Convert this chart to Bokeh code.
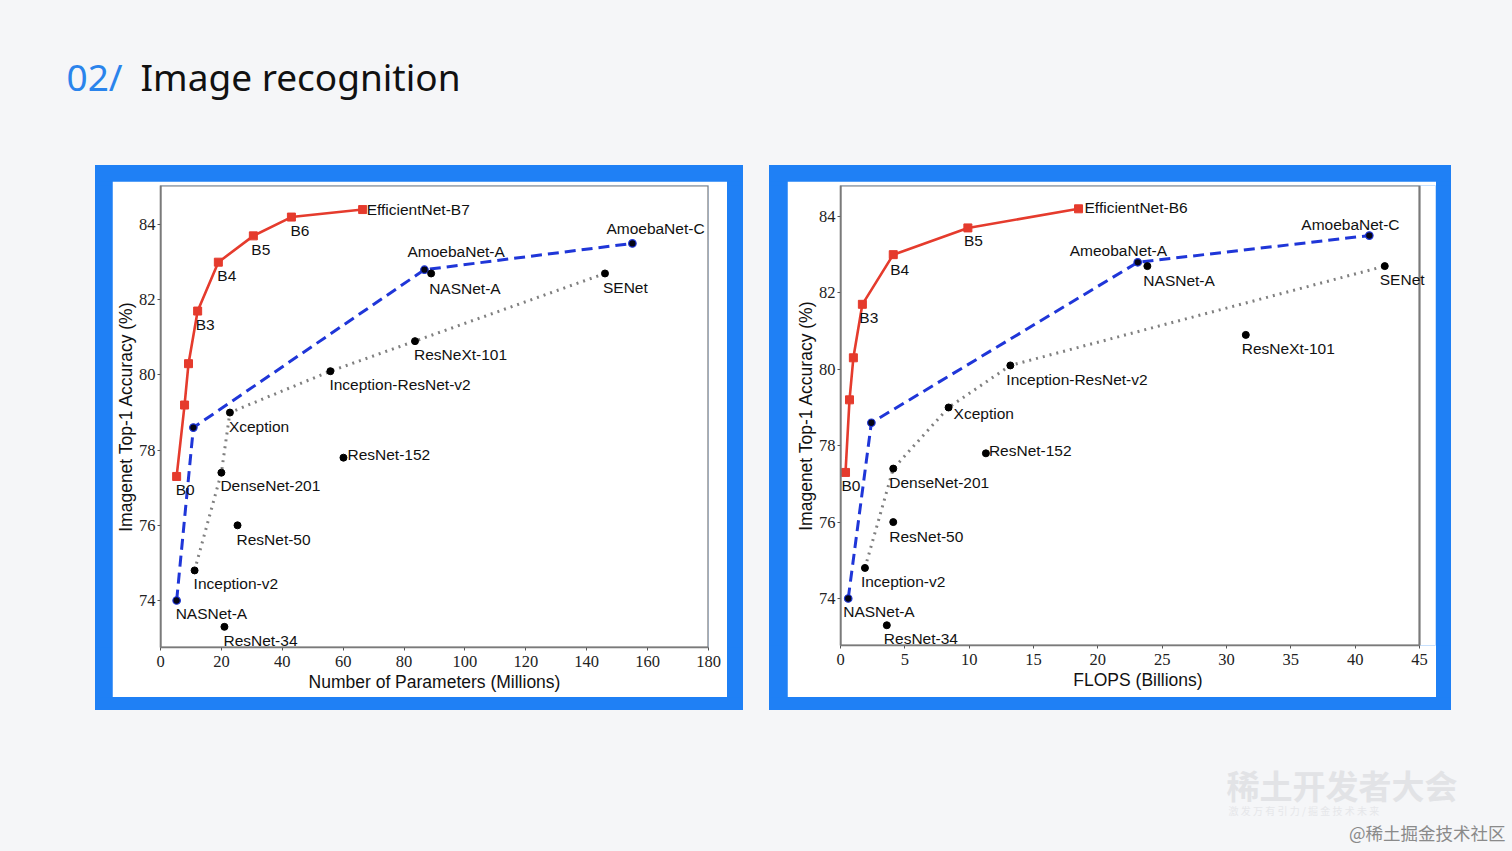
from bokeh.plotting import figure
from bokeh.models import Range1d, FixedTicker, Label, BoxAnnotation
from bokeh.layouts import column, row
from bokeh.embed import file_html
from bokeh.resources import INLINE

# ---------------- data ----------------
EFF_ACC = [77.3, 79.2, 80.3, 81.7, 83.0, 83.7, 84.2, 84.4]
NAS_ACC = [74.0, 78.6, 82.8, 83.5]

# left chart: number of parameters (millions)
L_EFF_LABELS = ["B0", "", "", "B3", "B4", "B5", "B6", "EfficientNet-B7"]
L_EFF_X = [5.3, 7.9, 9.2, 12.2, 19.0, 30.5, 43.0, 66.4]
L_NAS_LABELS = ["NASNet-A", "", "AmoebaNet-A", "AmoebaNet-C"]
L_NAS_X = [5.3, 10.8, 86.7, 155.0]
L_CNN_LABELS = ["Inception-v2", "DenseNet-201", "Xception", "Inception-ResNet-v2", "ResNeXt-101", "SENet"]
L_CNN_X = [11.2, 20.0, 22.8, 55.8, 83.6, 146.0]
L_CNN_ACC = [74.8, 77.4, 79.0, 80.1, 80.9, 82.7]
L_OTHER_LABELS = ["NASNet-A", "ResNet-152", "ResNet-50", "ResNet-34"]
L_OTHER_X = [88.9, 60.1, 25.3, 21.0]
L_OTHER_ACC = [82.7, 77.8, 76.0, 73.3]
L_XTICKS = [0, 20, 40, 60, 80, 100, 120, 140, 160, 180]

# right chart: FLOPS (billions)
R_EFF_LABELS = ["B0", "", "", "B3", "B4", "B5", "EfficientNet-B6"]
R_EFF_X = [0.39, 0.70, 1.0, 1.7, 4.1, 9.9, 18.5]
R_EFF_ACC = [77.3, 79.2, 80.3, 81.7, 83.0, 83.7, 84.2]
R_NAS_LABELS = ["NASNet-A", "", "AmeobaNet-A", "AmoebaNet-C"]
R_NAS_X = [0.6, 2.4, 23.1, 41.1]
R_CNN_LABELS = ["Inception-v2", "DenseNet-201", "Xception", "Inception-ResNet-v2", "SENet"]
R_CNN_X = [1.9, 4.1, 8.4, 13.2, 42.3]
R_CNN_ACC = [74.8, 77.4, 79.0, 80.1, 82.7]
R_OTHER_LABELS = ["NASNet-A", "ResNeXt-101", "ResNet-152", "ResNet-50", "ResNet-34"]
R_OTHER_X = [23.85, 31.5, 11.3, 4.1, 3.6]
R_OTHER_ACC = [82.7, 80.9, 77.8, 76.0, 73.3]
R_XTICKS = [0, 5, 10, 15, 20, 25, 30, 35, 40, 45]

Y_TICKS = [74, 76, 78, 80, 82, 84]

# ---------------- label offsets (screen px right / down; style only) ----------------
L_EFF_OFF = [(-1, 13), (0, 0), (0, 0), (-2, 13), (-1, 13), (-2, 14), (-1, 13), (4, 0)]
L_NAS_OFF = [(-1, 13), (0, 0), (-17, -18), (-26, -15)]
L_CNN_OFF = [(-1, 13), (-1, 13), (-1, 14), (-1, 13), (-1, 13), (-2, 14)]
L_OTHER_OFF = [(-2, 15), (4, -3), (-1, 14), (-1, 14)]

R_EFF_OFF = [(-4, 13), (0, 0), (0, 0), (-3, 13), (-3, 15), (-4, 13), (6, -1)]
R_NAS_OFF = [(-5, 13), (0, 0), (-68, -12), (-68, -11)]
R_CNN_OFF = [(-4, 14), (-4, 14), (5, 6), (-4, 14), (-5, 13)]
R_OTHER_OFF = [(-4, 14), (-4, 14), (3, -3), (-4, 14), (-3, 13)]

# ---------------- styles ----------------
BG = "#f5f6f8"
FRAME_BLUE = "#1f80f5"
RED = "#e53b2d"
BLUE = "#1f36d8"
GRAY = "#808080"
AXIS_GRAY = "#7a7a7a"
LABEL_FONT = "Liberation Sans"
TICK_FONT = "Liberation Serif"


def blank(w, h, color):
    f = figure(width=w, height=h, toolbar_location=None, output_backend="svg",
               min_border=0, x_axis_location=None, y_axis_location=None,
               x_range=Range1d(0, 1), y_range=Range1d(0, 1))
    f.outline_line_color = None
    f.background_fill_color = color
    f.border_fill_color = color
    f.grid.visible = False
    return f


def add_labels(p, xs, ys, labels, offs):
    for x, y, t, (dx, dy) in zip(xs, ys, labels, offs):
        if not t:
            continue
        p.add_layout(Label(x=x, y=y, text=t, x_offset=dx, y_offset=-dy,
                           text_font=LABEL_FONT, text_font_size="15.5px",
                           text_baseline="middle", text_align="left",
                           text_color="#111111"))


def chart(w, h, bl, br, bt, bb, xr, yr, xticks, xlabel,
          eff, nas, cnn, other, pad=0):
    # pad: white pixels right of the axes box kept inside the frame so that
    # labels may overhang the box (as in the original figure)
    frame_w = w - bl - br
    x_end = xr[0] + (xr[1] - xr[0]) * (frame_w + pad) / frame_w
    p = figure(width=w, height=h, toolbar_location=None, output_backend="svg",
               x_range=Range1d(xr[0], x_end), y_range=Range1d(*yr),
               min_border_left=bl, min_border_right=br - pad,
               min_border_top=bt, min_border_bottom=bb)
    p.background_fill_color = "white"
    p.border_fill_color = "white"
    p.outline_line_color = None
    p.grid.visible = False
    p.add_layout(BoxAnnotation(left=xr[0], right=xr[1], fill_color=None, fill_alpha=0,
                               line_color=AXIS_GRAY, line_alpha=1.0, line_width=2.2))
    p.xaxis.ticker = FixedTicker(ticks=xticks)
    p.yaxis.ticker = FixedTicker(ticks=Y_TICKS)
    p.xaxis.bounds = (xr[0], xr[1])
    for ax in (p.xaxis, p.yaxis):
        ax.axis_line_color = AXIS_GRAY
        ax.axis_line_width = 1.6
        ax.major_tick_line_color = "#555555"
        ax.major_tick_in = 0
        ax.major_tick_out = 3
        ax.minor_tick_in = 0
        ax.minor_tick_out = 0
        ax.major_label_text_font = TICK_FONT
        ax.major_label_text_font_size = "16.5px"
        ax.major_label_text_color = "#222222"
        ax.axis_label_text_font = LABEL_FONT
        ax.axis_label_text_font_size = "17.5px"
        ax.axis_label_text_font_style = "normal"
        ax.axis_label_text_color = "#111111"
    p.xaxis.major_label_standoff = 5
    p.xaxis.axis_label_standoff = 2
    p.yaxis.major_label_standoff = 2
    p.yaxis.axis_label_standoff = 0
    p.xaxis.axis_label = xlabel
    p.yaxis.axis_label = "Imagenet Top-1 Accuracy (%)"

    ex, ey, el, eo = eff
    nx, ny, nl, no = nas
    cx, cy, cl, co = cnn
    ox, oy, ol, oo = other

    p.line(cx, cy, line_color=GRAY, line_width=3, line_dash="2 5")
    p.line(nx, ny, line_color=BLUE, line_width=3, line_dash="11 6")
    p.line(ex, ey, line_color=RED, line_width=2.6)
    p.scatter(ex, ey, marker="square", size=8, fill_color=RED, line_color=RED)
    p.scatter(cx, cy, size=7, fill_color="black", line_color="black")
    p.scatter(nx, ny, size=7.5, fill_color="#050515", line_color=BLUE, line_width=1.2)
    p.scatter(ox, oy, size=7, fill_color="black", line_color="black")

    add_labels(p, ex, ey, el, eo)
    add_labels(p, nx, ny, nl, no)
    add_labels(p, cx, cy, cl, co)
    add_labels(p, ox, oy, ol, oo)
    return p


left = chart(615, 516, 48, 19, 4, 50, (0, 180), (72.75, 85.04), L_XTICKS,
             "Number of Parameters (Millions)",
             (L_EFF_X, EFF_ACC, L_EFF_LABELS, L_EFF_OFF),
             (L_NAS_X, NAS_ACC, L_NAS_LABELS, L_NAS_OFF),
             (L_CNN_X, L_CNN_ACC, L_CNN_LABELS, L_CNN_OFF),
             (L_OTHER_X, L_OTHER_ACC, L_OTHER_LABELS, L_OTHER_OFF), pad=0)

right = chart(649, 516, 53, 17, 4, 52, (0, 45), (72.77, 84.81), R_XTICKS,
              "FLOPS (Billions)",
              (R_EFF_X, R_EFF_ACC, R_EFF_LABELS, R_EFF_OFF),
              (R_NAS_X, NAS_ACC, R_NAS_LABELS, R_NAS_OFF),
              (R_CNN_X, R_CNN_ACC, R_CNN_LABELS, R_CNN_OFF),
              (R_OTHER_X, R_OTHER_ACC, R_OTHER_LABELS, R_OTHER_OFF), pad=16)

left_frame = column(
    blank(648, 16, FRAME_BLUE),
    row(blank(17, 516, FRAME_BLUE), left, blank(16, 516, FRAME_BLUE),
        styles={"background-color": FRAME_BLUE}),
    blank(648, 13, FRAME_BLUE),
    styles={"background-color": FRAME_BLUE},
)
right_frame = column(
    blank(682, 16, FRAME_BLUE),
    row(blank(18, 516, FRAME_BLUE), right, blank(15, 516, FRAME_BLUE),
        styles={"background-color": FRAME_BLUE}),
    blank(682, 13, FRAME_BLUE),
    styles={"background-color": FRAME_BLUE},
)

header = blank(1512, 165, BG)
header.add_layout(Label(x=66, y=89, x_units="screen", y_units="screen", text="02/",
                        text_font="Noto Sans", text_font_size="37px",
                        text_color="#2a84ec", text_baseline="alphabetic"))
header.add_layout(Label(x=140, y=89, x_units="screen", y_units="screen",
                        text="Image recognition", text_font="Noto Sans",
                        text_font_size="37px", text_color="#111111",
                        text_baseline="alphabetic"))

footer = blank(1512, 141, BG)
footer.add_layout(Label(x=1226, y=67, x_units="screen", y_units="screen",
                        text="稀土开发者大会", text_font="Noto Sans CJK SC",
                        text_font_size="33px", text_font_style="bold",
                        text_color="#e2e3e6", text_baseline="middle"))
footer.add_layout(Label(x=1228, y=41, x_units="screen", y_units="screen",
                        text="激 发 万 有 引 力 / 掘 金 技 术 未 来", text_font="Noto Sans CJK SC",
                        text_font_size="10px", text_color="#e6e7ea", text_baseline="middle"))
footer.add_layout(Label(x=1505, y=19, x_units="screen", y_units="screen",
                        text="@稀土掘金技术社区", text_font="Noto Sans CJK SC",
                        text_font_size="17.5px", text_color="#8a8a8a",
                        text_align="right", text_baseline="middle"))

middle = row(blank(95, 545, BG), left_frame, blank(26, 545, BG), right_frame, blank(61, 545, BG),
             styles={"background-color": BG})
p = column(header, middle, footer, styles={"background-color": BG})

open("out.html", "w").write(file_html(p, INLINE))
